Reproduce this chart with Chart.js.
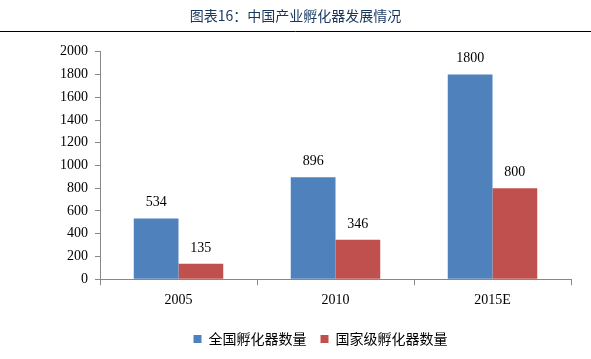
<!DOCTYPE html>
<html><head><meta charset="utf-8">
<script src="https://cdn.jsdelivr.net/npm/chart.js@4/dist/chart.umd.min.js"></script>
<style>html,body{margin:0;padding:0;background:#fff}#wrap{width:591px;height:359px}</style>
</head><body><div id="wrap"><canvas id="c" width="591" height="359"></canvas></div>
<script>
const categories = ['2005', '2010', '2015E'];
const seriesNames = ['全国孵化器数量', '国家级孵化器数量'];
const nationalTotal = [534, 896, 1800];
const nationalLevel = [135, 346, 800];
const yTicks = [0, 200, 400, 600, 800, 1000, 1200, 1400, 1600, 1800, 2000];

const valueLabels = {
  id: 'valueLabels',
  afterDatasetsDraw(chart) {
    const ctx = chart.ctx;
    ctx.save();
    ctx.font = '14px "Liberation Serif"';
    ctx.fillStyle = '#000';
    ctx.textAlign = 'center';
    ctx.textBaseline = 'middle';
    chart.data.datasets.forEach((ds, i) => {
      chart.getDatasetMeta(i).data.forEach((bar, j) => {
        ctx.fillText(String(ds.data[j]), bar.x, bar.y - 16);
      });
    });
    ctx.restore();
  }
};
const titleLine = {
  id: 'titleLine',
  afterDraw(chart) {
    const ctx = chart.ctx;
    ctx.save();
    ctx.strokeStyle = '#000';
    ctx.lineWidth = 1;
    ctx.beginPath();
    ctx.moveTo(0, 31.5);
    ctx.lineTo(591, 31.5);
    ctx.stroke();
    ctx.restore();
  }
};
const legendShift = {
  id: 'legendShift',
  afterLayout(chart) {
    const lg = chart.legend;
    if (lg) { lg.left += 25; lg.right += 25; }
  }
};

new Chart(document.getElementById('c'), {
  type: 'bar',
  data: {
    labels: categories,
    datasets: [
      { label: seriesNames[0], data: nationalTotal, backgroundColor: '#4F81BD' },
      { label: seriesNames[1], data: nationalLevel, backgroundColor: '#C0504D' }
    ]
  },
  options: {
    responsive: false,
    animation: false,
    devicePixelRatio: 1,
    layout: { padding: { left: 20, right: 20, top: 0, bottom: 3 } },
    datasets: { bar: { categoryPercentage: 0.57, barPercentage: 1.0 } },
    plugins: {
      title: {
        display: true,
        text: '图表16：中国产业孵化器发展情况',
        color: '#17375E',
        font: { family: '"Noto Sans CJK SC"', size: 14, weight: 'normal' },
        padding: { top: 7, bottom: 28 }
      },
      legend: {
        position: 'bottom',
        labels: {
          boxWidth: 8, boxHeight: 8, color: '#000',
          font: { family: '"Noto Sans CJK SC"', size: 14 },
          padding: 14
        }
      },
      tooltip: { enabled: false }
    },
    scales: {
      x: {
        afterFit(scale) { scale.height += 2; },
        grid: { display: true, drawOnChartArea: false, offset: true, tickLength: 6, color: '#888' },
        border: { display: true, color: '#888' },
        ticks: { color: '#000', font: { family: '"Liberation Serif"', size: 14 }, padding: 7 }
      },
      y: {
        min: 0, max: 2000,
        afterFit(scale) { scale.width = 80; },
        afterBuildTicks(scale) { scale.ticks = yTicks.map(v => ({ value: v })); },
        grid: { display: true, drawOnChartArea: false, tickLength: 5, color: '#888' },
        border: { display: true, color: '#888' },
        ticks: { color: '#000', font: { family: '"Liberation Serif"', size: 14 }, padding: 7,
                 callback: v => String(v) }
      }
    }
  },
  plugins: [valueLabels, titleLine, legendShift]
});
</script></body></html>
